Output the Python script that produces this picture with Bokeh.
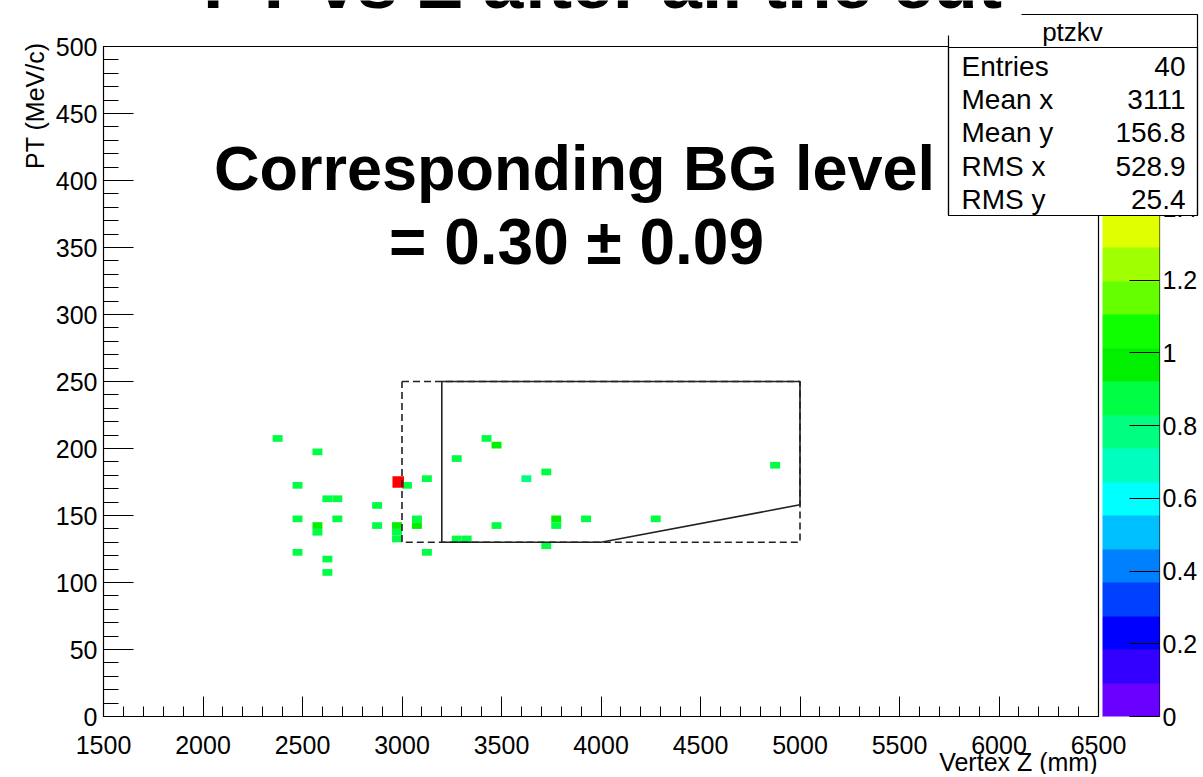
import math
from bokeh.plotting import figure
from bokeh.models import (LinearColorMapper, ColorBar, FixedTicker, SingleIntervalTicker,
                          Label, BoxAnnotation, CustomJSTickFormatter, Range1d, ColumnDataSource)
from bokeh.embed import file_html
from bokeh.resources import INLINE

# ---------------- data ----------------
bin_z = [2375, 2575, 2475, 2625, 2675, 2875, 2475, 2575, 2575, 2675, 2875, 2475,
         2625, 2625, 3025, 3125, 2975, 2975, 2975, 3075, 3075, 3125, 3275, 3325,
         3275, 3425, 3475, 3475, 3625, 3725, 3725, 3775, 3775, 3925, 4275, 4875]
bin_pt = [207.5, 197.5, 172.5, 162.5, 162.5, 157.5, 147.5, 142.5, 137.5, 147.5, 142.5, 122.5,
          117.5, 107.5, 172.5, 177.5, 142.5, 137.5, 132.5, 147.5, 142.5, 122.5, 132.5, 132.5,
          192.5, 207.5, 202.5, 142.5, 177.5, 182.5, 127.5, 147.5, 142.5, 147.5, 147.5, 187.5]
bin_content = [0.88, 0.88, 0.88, 0.88, 0.88, 0.88, 0.88, 0.97, 0.88, 0.88, 0.88, 0.88,
               0.88, 0.88, 0.88, 0.88, 0.97, 0.88, 0.88, 0.88, 0.97, 0.88, 0.88, 0.88,
               0.88, 0.88, 0.97, 0.88, 0.78, 0.88, 0.88, 0.97, 0.88, 0.88, 0.88, 0.88]
bin_dz = 50
bin_dpt = 5

signal_z = [2981]
signal_pt = [175]

# signal region (solid) and loose region (dashed)
cut_z = [3200, 5000, 5000, 4000, 3200, 3200]
cut_pt = [250, 250, 158, 130, 130, 250]
loose_z = [3000, 5000, 5000, 3000, 3000]
loose_pt = [250, 250, 130, 130, 250]

z_ticks_cb = [0, 0.2, 0.4, 0.6, 0.8, 1.0, 1.2, 1.4, 1.6, 1.8]
palette = ["#6a00ff", "#3300ff", "#0000ff", "#0040ff", "#0080ff", "#00bfff", "#00ffff",
           "#00ffbf", "#00ff80", "#00ff44", "#00f000", "#10ff00", "#66ff00", "#a0ff00",
           "#e0ff00", "#ffd000", "#ffa000", "#ff6a00", "#ff3300", "#ff0000"]
z_min, z_max = 0.0, 1.843

stats_names = ["Entries", "Mean x", "Mean y", "RMS x", "RMS y"]
stats_vals = ["40", "3111", "156.8", "528.9", "25.4"]

# -------- pixel -> data helpers used only to place annotations ----------
W, H = 1200, 774
def X(px):
    return 1500 + (px - 103) * 5000.0 / 995.0

def Y(py):
    return (716 - py) * 500.0 / 670.0

FONT = "Liberation Sans"

p = figure(width=W, height=H, output_backend="svg", toolbar_location=None,
           x_range=Range1d(X(0), X(W)), y_range=Range1d(Y(H), Y(0)),
           min_border=0, min_border_left=0, min_border_right=0,
           min_border_top=0, min_border_bottom=0)
p.xgrid.visible = False
p.ygrid.visible = False
p.outline_line_color = None
p.background_fill_color = "white"
p.border_fill_color = "white"

xa, ya = p.xaxis[0], p.yaxis[0]
xa.fixed_location = 0
ya.fixed_location = 1500
xa.bounds = (1500, 6500)
ya.bounds = (0, 500)
for ax, iv, major, minor in ((xa, 500, 20, 10), (ya, 50, 30, 15)):
    ax.ticker = SingleIntervalTicker(interval=iv, num_minor_ticks=5)
    ax.major_tick_in = major
    ax.major_tick_out = 0
    ax.minor_tick_in = minor
    ax.minor_tick_out = 0
    ax.axis_line_color = "black"
    ax.major_tick_line_color = "black"
    ax.minor_tick_line_color = "black"
    ax.major_label_text_font = FONT
    ax.major_label_text_font_size = "25px"
    ax.major_label_text_color = "black"
xa.major_label_standoff = 19
ya.major_label_standoff = 6

# plot frame
p.add_layout(BoxAnnotation(left=1500, right=6500, bottom=0, top=500, fill_alpha=0,
                           line_color="black", line_alpha=1, line_width=1.2))

mapper = LinearColorMapper(palette=palette, low=z_min, high=z_max)
src = ColumnDataSource(dict(z=bin_z, pt=bin_pt, c=bin_content))
p.rect(x="z", y="pt", width=bin_dz, height=bin_dpt, source=src,
       fill_color={"field": "c", "transform": mapper}, line_color=None)

p.scatter(signal_z, signal_pt, marker="square", size=11.5, fill_color="#ff0000", line_color=None)

p.line(loose_z, loose_pt, line_color="#222222", line_width=1.6, line_dash="7 4")
p.line(cut_z, cut_pt, line_color="#222222", line_width=1.6)

cb = ColorBar(color_mapper=mapper, location=(1102, H - 716), width=57, height=670,
              padding=0, margin=0, ticker=FixedTicker(ticks=z_ticks_cb),
              formatter=CustomJSTickFormatter(code="return tick.toFixed(1).replace(/\\.0$/, '')"),
              major_tick_in=30, major_tick_out=0, major_tick_line_color="black",
              minor_tick_line_color=None, label_standoff=3,
              major_label_text_font=FONT, major_label_text_font_size="25px",
              major_label_text_color="black",
              background_fill_color=None, border_line_color=None, bar_line_color=None)
p.add_layout(cb, "center")

# colorbar axis line
p.segment(x0=[X(1159)], y0=[Y(716)], x1=[X(1159)], y1=[Y(46)], line_color="black", line_width=1.2)

# statistics box
p.add_layout(BoxAnnotation(left=X(948), right=X(1197), top=Y(14), bottom=Y(215),
                           fill_color="white", fill_alpha=1, line_color="black",
                           line_alpha=1, line_width=1.2))
p.add_layout(BoxAnnotation(left=X(948), right=X(1197), top=Y(47), bottom=Y(215),
                           fill_alpha=0, line_color="black", line_alpha=1, line_width=1.2))
p.add_layout(Label(x=X(1072), y=Y(31), text="ptzkv", text_align="center",
                   text_baseline="middle", text_font=FONT, text_font_size="26px",
                   text_color="black"))
rows_y = [66, 99, 132, 166, 199]
for name, val, ry in zip(stats_names, stats_vals, rows_y):
    p.add_layout(Label(x=X(961), y=Y(ry), text=name, text_align="left",
                       text_baseline="middle", text_font=FONT, text_font_size="28px",
                       text_color="black"))
    p.add_layout(Label(x=X(1185), y=Y(ry), text=val, text_align="right",
                       text_baseline="middle", text_font=FONT, text_font_size="28px",
                       text_color="black"))

# white backing of the overlaid title (covers the stats-box corner)
p.add_layout(BoxAnnotation(left=X(900), right=X(1021), top=Y(0), bottom=Y(35),
                           fill_color="white", fill_alpha=1, line_color=None))

# axis titles
p.add_layout(Label(x=X(34), y=Y(42), text="PT (MeV/c)", angle=math.pi / 2,
                   text_align="right", text_baseline="middle", text_font=FONT,
                   text_font_size="25px", text_color="black"))
p.add_layout(Label(x=X(1097), y=Y(761), text="Vertex Z (mm)", text_align="right",
                   text_baseline="middle", text_font=FONT, text_font_size="25px",
                   text_color="black"))

# overlaid texts
p.add_layout(Label(x=X(602), y=Y(-18), text="PT vs Z after all the cut", text_align="center",
                   text_baseline="middle", text_font=FONT, text_font_style="bold",
                   text_font_size="73px", text_color="black"))
p.add_layout(Label(x=X(574), y=Y(167), text="Corresponding BG level", text_align="center",
                   text_baseline="middle", text_font=FONT, text_font_style="bold",
                   text_font_size="63px", text_color="black"))
p.add_layout(Label(x=X(576), y=Y(241), text="= 0.30 \u00b1 0.09", text_align="center",
                   text_baseline="middle", text_font=FONT, text_font_style="bold",
                   text_font_size="64px", text_color="black"))

open("out.html", "w").write(file_html(p, INLINE))
